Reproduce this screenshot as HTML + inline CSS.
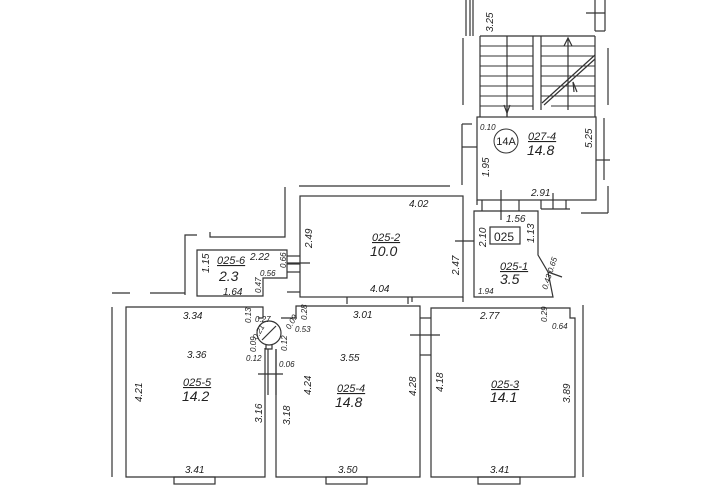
<!DOCTYPE html>
<html><head><meta charset="utf-8"><style>
html,body{margin:0;padding:0;background:#fff;}
svg{display:block;}
text{font-family:"Liberation Sans",sans-serif;font-style:italic;fill:#222;}
.s{font-size:10px;}
.xs{font-size:8px;}
.id{font-size:11px;text-decoration:underline;}
.ar{font-size:14px;}
</style></head><body>
<svg width="726" height="485" viewBox="0 0 726 485" xmlns="http://www.w3.org/2000/svg">
<g fill="none" stroke="#333" stroke-width="1.2">
<line x1="466" y1="0" x2="466" y2="36"/><line x1="470" y1="0" x2="470" y2="36"/><line x1="473" y1="0" x2="473" y2="36"/>
<line x1="463" y1="38" x2="463" y2="105"/>
<line x1="595" y1="0" x2="595" y2="31"/><line x1="605" y1="0" x2="605" y2="31"/><line x1="595" y1="31" x2="605" y2="31"/>
<line x1="586" y1="13" x2="605" y2="13"/>
<line x1="480" y1="36" x2="480" y2="117"/>
<line x1="480" y1="36" x2="595" y2="36"/>
<line x1="595" y1="36" x2="595" y2="117"/>
<line x1="533" y1="36" x2="533" y2="110"/><line x1="541" y1="36" x2="541" y2="110"/>
<line x1="507" y1="36" x2="507" y2="117"/>
<g stroke-width="0.9">
<line x1="480" y1="46" x2="533" y2="46"/><line x1="480" y1="56" x2="533" y2="56"/><line x1="480" y1="66" x2="533" y2="66"/><line x1="480" y1="76" x2="533" y2="76"/><line x1="480" y1="86" x2="533" y2="86"/><line x1="480" y1="96" x2="533" y2="96"/><line x1="480" y1="106" x2="533" y2="106"/>
<line x1="541" y1="46" x2="595" y2="46"/><line x1="541" y1="56" x2="595" y2="56"/><line x1="541" y1="66" x2="595" y2="66"/><line x1="541" y1="76" x2="595" y2="76"/><line x1="541" y1="86" x2="595" y2="86"/><line x1="541" y1="96" x2="595" y2="96"/><line x1="551" y1="106" x2="595" y2="106"/>
</g>
<line x1="568" y1="38" x2="568" y2="110"/>
<path d="M564 46 L568 38 L572 46"/>
<line x1="507" y1="117" x2="507" y2="107"/>
<path d="M504 105 L507 113 L510 105"/>
<path d="M542 103 L595 55 M544 105 L595 59"/>
<path d="M574 92 L573 82 L577 92"/>
<line x1="608" y1="48" x2="608" y2="105"/>
<rect x="477" y="117" width="119" height="83"/>
<line x1="462" y1="124" x2="462" y2="185"/><line x1="462" y1="124" x2="472" y2="124"/>
<line x1="462" y1="147" x2="477" y2="147"/>
<line x1="604" y1="118" x2="604" y2="180"/><line x1="596" y1="160" x2="610" y2="160"/>
<line x1="477" y1="200" x2="477" y2="205"/><line x1="482" y1="200" x2="482" y2="211"/><line x1="519" y1="200" x2="519" y2="211"/><line x1="501" y1="190" x2="501" y2="220"/>
<line x1="541" y1="200" x2="541" y2="209"/><line x1="541" y1="209" x2="570" y2="209"/>
<line x1="553" y1="193" x2="553" y2="209"/><line x1="566" y1="200" x2="566" y2="209"/>
<line x1="581" y1="213" x2="608" y2="213"/><line x1="608" y1="186" x2="608" y2="213"/>
<path d="M474 211 L538 211 L538 255 L548 272 L553 297 L474 297 Z"/>
<line x1="548" y1="272" x2="562" y2="277"/>
<line x1="455" y1="241" x2="474" y2="241"/>
<rect x="490" y="227" width="30" height="17"/>
<rect x="300" y="196" width="163" height="101"/>
<line x1="299" y1="186" x2="450" y2="186"/>
<line x1="347" y1="297" x2="347" y2="304"/><line x1="408" y1="297" x2="408" y2="304"/>
<line x1="463" y1="297" x2="463" y2="302"/>
<line x1="412" y1="297" x2="412" y2="302"/>
<path d="M197 250 L287 250 L287 278 L263 278 L263 296 L197 296 Z"/>
<line x1="287" y1="256" x2="300" y2="256"/><line x1="287" y1="264" x2="300" y2="264"/><line x1="287" y1="272" x2="300" y2="272"/><line x1="287" y1="292" x2="300" y2="292"/>
<line x1="287" y1="263" x2="310" y2="263"/>
<path d="M185 295 L185 235 L197 235"/>
<path d="M210 232 L210 237 L285 237 L285 187"/>
<line x1="150" y1="293" x2="185" y2="293"/><line x1="112" y1="293" x2="130" y2="293"/>
<path d="M258 318 L263 318 L263 307 L126 307 L126 477 L265 477 L265 348"/>
<line x1="112" y1="307" x2="112" y2="477"/>
<rect x="174" y="477" width="41" height="7"/>
<circle cx="269" cy="333" r="12"/>
<line x1="262" y1="340" x2="276" y2="326"/>
<path d="M266 345 L266 349 L272 349 L272 345"/>
<line x1="268" y1="349" x2="268" y2="395"/><line x1="276" y1="349" x2="276" y2="395"/>
<line x1="258" y1="374" x2="283" y2="374"/>
<path d="M276 349 L276 477 L420 477 L420 306 L296 306 L296 318 L281 318"/>
<rect x="326" y="477" width="41" height="7"/>
<line x1="420" y1="318" x2="431" y2="318"/><line x1="420" y1="355" x2="431" y2="355"/>
<line x1="410" y1="335" x2="440" y2="335"/>
<path d="M431 308 L570 308 L570 318 L575 318 L575 477 L431 477 Z"/>
<line x1="583" y1="305" x2="583" y2="477"/>
<rect x="478" y="477" width="42" height="7"/>
</g>
<circle cx="506" cy="141" r="12" fill="none" stroke="#333" stroke-width="1"/>
<text x="506" y="145" text-anchor="middle" style="font-style:normal;font-size:11px">14A</text>
<text class="s" transform="translate(493,32) rotate(-90)">3.25</text>
<text class="xs" x="480" y="130">0.10</text>
<text class="id" x="528" y="140">027-4</text>
<text class="ar" x="527" y="155">14.8</text>
<text class="s" transform="translate(592,148) rotate(-90)">5.25</text>
<text class="s" transform="translate(489,177) rotate(-90)">1.95</text>
<text class="s" x="531" y="196">2.91</text>
<text class="s" x="506" y="222">1.56</text>
<text x="494" y="241" style="font-style:normal;font-size:12px">025</text>
<text class="s" transform="translate(534,243) rotate(-90)">1.13</text>
<text class="s" transform="translate(486,247) rotate(-90)">2.10</text>
<text class="id" x="500" y="270">025-1</text>
<text class="ar" x="500" y="284">3.5</text>
<text class="xs" x="478" y="294">1.94</text>
<text class="xs" transform="translate(547,290) rotate(-72)">0.43 0.65</text>
<text class="s" transform="translate(459,275) rotate(-90)">2.47</text>
<text class="s" x="409" y="207">4.02</text>
<text class="s" transform="translate(312,248) rotate(-90)">2.49</text>
<text class="id" x="372" y="241">025-2</text>
<text class="ar" x="370" y="256">10.0</text>
<text class="s" x="370" y="292">4.04</text>
<text class="s" transform="translate(209,273) rotate(-90)">1.15</text>
<text class="id" x="217" y="264">025-6</text>
<text class="ar" x="219" y="281">2.3</text>
<text class="s" x="250" y="260">2.22</text>
<text class="xs" x="260" y="276">0.56</text>
<text class="xs" transform="translate(286,268) rotate(-90)">0.66</text>
<text class="xs" transform="translate(261,293) rotate(-90)">0.47</text>
<text class="s" x="223" y="295">1.64</text>
<text class="s" x="183" y="319">3.34</text>
<text class="xs" transform="translate(251,323) rotate(-90)">0.13</text>
<text class="xs" x="255" y="322">0.27</text>
<text class="xs" transform="translate(257,340) rotate(-60)">0.21</text>
<text class="xs" transform="translate(256,352) rotate(-90)">0.09</text>
<text class="xs" x="246" y="361">0.12</text>
<text class="xs" transform="translate(287,351) rotate(-90)">0.12</text>
<text class="xs" x="279" y="367">0.06</text>
<text class="xs" transform="translate(290,330) rotate(-60)">0.09</text>
<text class="xs" x="295" y="332">0.53</text>
<text class="xs" transform="translate(307,320) rotate(-90)">0.28</text>
<text class="s" x="187" y="358">3.36</text>
<text class="s" transform="translate(142,402) rotate(-90)">4.21</text>
<text class="id" x="183" y="386">025-5</text>
<text class="ar" x="182" y="401">14.2</text>
<text class="s" transform="translate(262,423) rotate(-90)">3.16</text>
<text class="s" x="185" y="473">3.41</text>
<text class="s" x="353" y="318">3.01</text>
<text class="s" x="340" y="361">3.55</text>
<text class="s" transform="translate(311,395) rotate(-90)">4.24</text>
<text class="s" transform="translate(290,425) rotate(-90)">3.18</text>
<text class="id" x="337" y="392">025-4</text>
<text class="ar" x="335" y="407">14.8</text>
<text class="s" transform="translate(416,396) rotate(-90)">4.28</text>
<text class="s" x="338" y="473">3.50</text>
<text class="s" x="480" y="319">2.77</text>
<text class="xs" transform="translate(547,322) rotate(-90)">0.29</text>
<text class="xs" x="552" y="329">0.64</text>
<text class="s" transform="translate(443,392) rotate(-90)">4.18</text>
<text class="id" x="491" y="388">025-3</text>
<text class="ar" x="490" y="402">14.1</text>
<text class="s" transform="translate(570,403) rotate(-90)">3.89</text>
<text class="s" x="490" y="473">3.41</text>
</svg>
</body></html>
